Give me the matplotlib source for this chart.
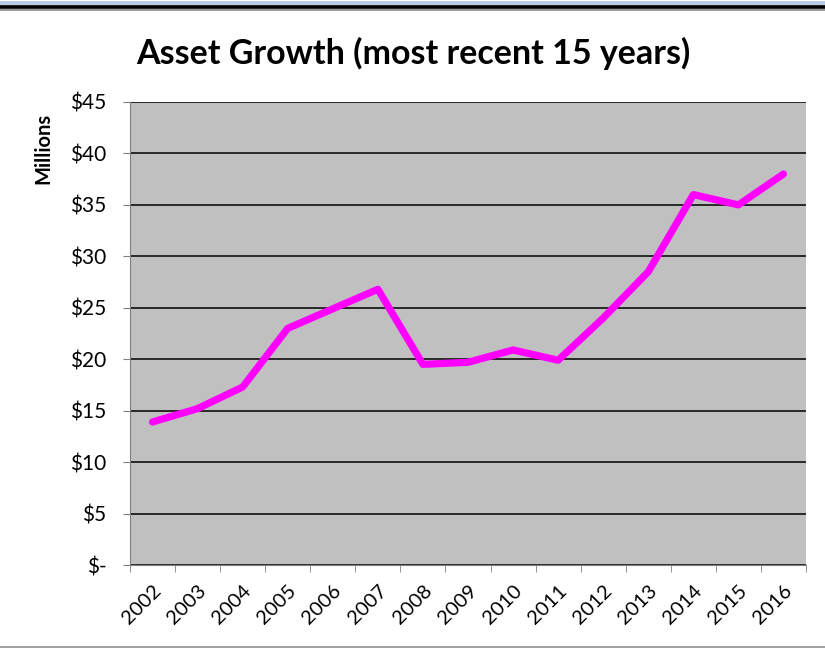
import matplotlib.pyplot as plt
from matplotlib.lines import Line2D
from matplotlib.ticker import FixedLocator

years = ['2002', '2003', '2004', '2005', '2006', '2007', '2008', '2009',
         '2010', '2011', '2012', '2013', '2014', '2015', '2016']
assets = [13.9, 15.2, 17.3, 23.0, 24.9, 26.8, 19.5, 19.7,
          20.9, 19.9, 24.0, 28.5, 36.0, 35.0, 38.0]
y_ticks = [0, 5, 10, 15, 20, 25, 30, 35, 40, 45]
y_labels = ['$-', '$5', '$10', '$15', '$20', '$25', '$30', '$35', '$40', '$45']

plt.rcParams['font.family'] = ['Lato', 'DejaVu Sans']

fig = plt.figure(figsize=(8.25, 6.5), dpi=100)

# spreadsheet window frame lines
fig.add_artist(Line2D([0, 1], [1 - 2.5/650, 1 - 2.5/650], color='#b8cce4', lw=3.6))
fig.add_artist(Line2D([0, 1], [1 - 6.5/650, 1 - 6.5/650], color='black', lw=2.6))
fig.add_artist(Line2D([0, 1], [1 - 9.5/650, 1 - 9.5/650], color='#999999', lw=1.4))
fig.add_artist(Line2D([0, 1], [3/650, 3/650], color='#a0a0a0', lw=1.4))

ax = fig.add_axes([130/825, 85/650, 676/825, 463/650])
ax.set_facecolor('#c0c0c0')

x = list(range(len(years)))
ax.plot(x, assets, color='#ff00ff', lw=5.2, solid_capstyle='round',
        solid_joinstyle='round', zorder=3)

ax.set_xlim(-0.5, len(years) - 0.5)
ax.set_ylim(0, 45)

ax.set_yticks(y_ticks)
ax.set_yticklabels(y_labels, fontsize=15)
ax.yaxis.grid(True, color='black', lw=1.1)
ax.set_axisbelow(True)
ax.tick_params(axis='y', length=5, color='#808080', pad=12)

ax.set_xticks(x)
ax.set_xticklabels(years, fontsize=14.5, rotation=45, ha='right',
                   rotation_mode='anchor')
ax.xaxis.set_minor_locator(FixedLocator([i - 0.5 for i in range(len(years) + 1)]))
ax.tick_params(axis='x', which='major', length=0, pad=12)
ax.tick_params(axis='x', which='minor', length=5, color='#808080')

for s in ['top', 'right']:
    ax.spines[s].set_visible(False)
ax.spines['left'].set_color('#808080')
ax.spines['bottom'].set_color('#808080')

# axis title sits near the top of the value axis, like the Excel original
fig.text(43/825, 1 - 148/650, 'Millions', fontsize=14.5, fontweight='bold',
         rotation=90, ha='center', va='center')
fig.text(413/825, 1 - 53/650, 'Asset Growth (most recent 15 years)',
         fontsize=24.5, fontweight='bold', ha='center', va='center')

plt.savefig('out.png', dpi=100)
